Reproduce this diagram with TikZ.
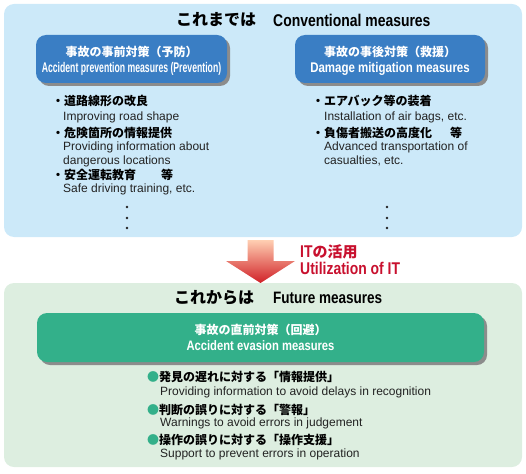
\documentclass[tikz,border=0pt]{standalone}
\usepackage{fontspec}
\usepackage{xcolor}
\usepackage{tikz}
\setmainfont{Liberation Sans}
\newfontfamily\jpfont{Noto Sans CJK JP}
\newfontfamily\condfont[FakeStretch=0.82]{Liberation Sans}
\newfontfamily\narrowfont[FakeStretch=0.62]{Liberation Sans}
\definecolor{pastblue}{RGB}{204,233,249}
\definecolor{futgreen}{RGB}{221,238,224}
\definecolor{boxblue}{RGB}{58,126,196}
\definecolor{boxgreen}{RGB}{51,176,138}
\definecolor{itred}{RGB}{200,16,46}
\definecolor{textgray}{RGB}{34,34,34}

\begin{document}
\begin{tikzpicture}[x=1pt,y=-1pt,
 jp/.style={font=\jpfont\bfseries\fontsize{12}{14}\selectfont,inner sep=0pt,anchor=west},
 en/.style={font=\fontsize{12}{14}\selectfont,inner sep=0pt,anchor=west,text=textgray},
 jptitle/.style={font=\jpfont\bfseries\fontsize{16}{18}\selectfont,inner sep=0pt},
 cond/.style={font=\condfont\bfseries\fontsize{#1}{#1}\selectfont,inner sep=0pt},
 boxjp/.style={font=\jpfont\bfseries\fontsize{12}{14}\selectfont,inner sep=0pt,text=white},
 panel/.style={rounded corners=10pt},
 measbox/.style={rounded corners=10pt}]
\useasboundingbox(0,0)rectangle(526,473);
% conventional measures
\fill[pastblue,panel](4,4)rectangle(522,237);
\node[jptitle](pastjp)at(216,20){これまでは};
\node[cond=17,anchor=west](pasten)at(273,20){Conventional measures};
\fill[gray!90,measbox](39,38)rectangle(230,86);
\fill[boxblue,measbox](36,35)rectangle(227,83);
\fill[gray!90,measbox](298,38)rectangle(488,86);
\fill[boxblue,measbox](295,35)rectangle(485,83);
\node[boxjp](prevjp)at(131.5,52){事故の事前対策（予防）};
\node[font=\narrowfont\bfseries\fontsize{14}{14}\selectfont,inner sep=0pt,text=white](preven)at(131.5,69){Accident prevention measures (Prevention)};
\node[boxjp](damjp)at(390,52){事故の事後対策（救援）};
\node[cond=14,text=white](damen)at(390,69){Damage mitigation measures};
\node[jp](roadjp)at(52,101){・道路線形の改良};
\node[en](roaden)at(63,117){Improving road shape};
\node[jp](dangjp)at(52,133){・危険箇所の情報提供};
\node[en](dangen)at(63,147){Providing information about};
\node[en](dangen2)at(63,161){dangerous locations};
\node[jp](safejp)at(52,175){・安全運転教育\hspace{25pt}等};
\node[en](safeen)at(63,189){Safe driving training, etc.};
\node[jp](bagjp)at(312,101){・エアバック等の装着};
\node[en](bagen)at(324,117){Installation of air bags, etc.};
\node[jp](casjp)at(312,133){・負傷者搬送の高度化\hspace{18pt}等};
\node[en](casen)at(324,147){Advanced transportation of};
\node[en](casen2)at(324,161){casualties, etc.};
\foreach \y in {207,218,228}{
 \fill[textgray](127,\y)circle(1.3pt);
 \fill[textgray](387,\y)circle(1.3pt);
}
% utilization of IT
\shade[top color=red!25!orange!30,bottom color=itred!85!orange](247.5,240)--(273.5,240)--(273.5,261)--(295,261)--(260.5,283)--(226,261)--(247.5,261)--cycle;
\node[anchor=west,inner sep=0pt,text=itred](itjp)at(300,252){{\condfont\bfseries\fontsize{17}{17}\selectfont IT}{\jpfont\bfseries\fontsize{15}{17}\selectfont の活用}};
\node[cond=17,anchor=west,text=itred](iten)at(300,268){Utilization of IT};
% future measures
\fill[futgreen,panel](4,283)rectangle(522,467);
\node[jptitle](futjp)at(214,298){これからは};
\node[cond=16.5,anchor=west](futen)at(273,298){Future measures};
\fill[gray!90,measbox](40,316)rectangle(487,365);
\fill[boxgreen,measbox](37,313)rectangle(484,362);
\node[boxjp](evajp)at(260.5,330){事故の直前対策（回避）};
\node[cond=13.7,text=white](evaen)at(260.5,346){Accident evasion measures};
\node[jp](recjp)at(147,377){{\color{boxgreen}●}発見の遅れに対する「情報提供」};
\node[en](recen)at(160,392){Providing information to avoid delays in recognition};
\node[jp](judjp)at(147,410){{\color{boxgreen}●}判断の誤りに対する「警報」};
\node[en](juden)at(160,423){Warnings to avoid errors in judgement};
\node[jp](opjp)at(147,440){{\color{boxgreen}●}操作の誤りに対する「操作支援」};
\node[en](open)at(160,454){Support to prevent errors in operation};
\end{tikzpicture}
\end{document}
